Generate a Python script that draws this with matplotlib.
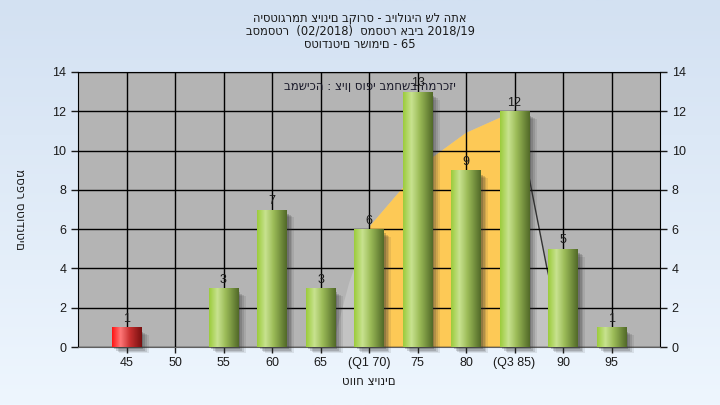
import numpy as np
import matplotlib.pyplot as plt
from matplotlib.colors import LinearSegmentedColormap
from matplotlib.patches import Rectangle, Polygon

plt.rcParams['font.family'] = ['Liberation Sans', 'DejaVu Sans']
HEB = ['DejaVu Sans']

# grade ranges and student counts
categories = ['45', '50', '55', '60', '65', '(Q1 70)', '75', '80', '(Q3 85)', '90', '95']
counts = [1, 0, 3, 7, 3, 6, 13, 9, 12, 5, 1]
q1_idx, q3_idx = 5, 8

# distribution curve (category index, height)
curve_x = [4.24, 4.59, 5.0, 5.66, 6.28, 7.0, 7.68, 8.0, 8.28, 8.67, 9.06]
curve_y = [0, 3.26, 6.1, 8.0, 9.6, 10.9, 11.65, 12.0, 8.9, 4.0, 0]

title = ('היסטוגרמת ציונים בקורס - ביולוגיה של התא\n'
         'בסמסטר  (02/2018)  סמסטר אביב 2018/19\n'
         'סטודנטים רשומים - 65')
note = 'במשיכה : ציון סופי במחשב המרכזי'
xlabel = 'טווח ציונים'
ylabel = 'מספר סטודנטים'

fig = plt.figure(figsize=(7.2, 4.05), dpi=100)

# background gradient
bg = fig.add_axes([0, 0, 1, 1], zorder=-10)
bg_cmap = LinearSegmentedColormap.from_list('bg', ['#d3e1f2', '#eef6fe'])
bg.imshow(np.linspace(0, 1, 256).reshape(-1, 1), cmap=bg_cmap, aspect='auto',
          extent=(0, 1, 0, 1))
bg.set_axis_off()

ax = fig.add_axes([78 / 720, 1 - 347 / 405, 582 / 720, 275 / 405])
ax.set_facecolor('#b4b4b4')

# curve areas
light = Polygon(list(zip(curve_x, curve_y)), closed=True, facecolor='#c3c3c3',
                edgecolor='none', zorder=0.2)
ax.add_patch(light)
yx = [x for x in curve_x if q1_idx <= x <= q3_idx]
yy = [y for x, y in zip(curve_x, curve_y) if q1_idx <= x <= q3_idx]
yellow = Polygon(list(zip(yx, yy)) + [(q3_idx, 0), (q1_idx, 0)], closed=True,
                 facecolor='#fdc956', edgecolor='none', zorder=0.3)
ax.add_patch(yellow)
ax.plot(curve_x[7:], curve_y[7:], color='#333333', lw=1, zorder=0.4)

green = LinearSegmentedColormap.from_list(
    'g', [(0, '#9ccc3c'), (0.28, '#c8e290'), (0.55, '#9cbc58'), (1, '#526a28')])
red = LinearSegmentedColormap.from_list(
    'r', [(0, '#ff1414'), (0.28, '#ff7878'), (0.6, '#c83030'), (1, '#781010')])
grad = np.linspace(0, 1, 64).reshape(1, -1)

w = 0.6
for i, v in enumerate(counts):
    if v == 0:
        continue
    # soft shadow
    for k, a in enumerate([0.10, 0.14, 0.18, 0.24]):
        off = 0.05 + 0.035 * (3 - k)
        ax.add_patch(Rectangle((i - w / 2 + off, -0.3 + 0.06 * k), w, v - 0.1,
                               facecolor='#303030', edgecolor='none', alpha=a,
                               zorder=3, clip_on=False))
    bar = ax.bar(i, v, width=w, color='none', edgecolor='none', zorder=4)[0]
    img = ax.imshow(grad, cmap=red if i == 0 else green, aspect='auto',
                    extent=(i - w / 2, i + w / 2, 0, v), zorder=4)
    img.set_clip_path(bar)
    ax.text(i, v + 0.12, str(v), ha='center', va='bottom', fontsize=9,
            color='#1a1a1a', zorder=6)

ax.set_xlim(-1, 11)
ax.set_ylim(0, 14)
ax.set_xticks(range(len(categories)))
ax.set_xticklabels(categories)
ax.set_yticks(range(0, 15, 2))
ax.tick_params(axis='both', labelsize=9, colors='#1a1a1a', length=5, width=1)
ax.tick_params(axis='y', right=True, labelright=True)
ax.tick_params(axis='x', length=4)

ax.set_axisbelow(True)
ax.grid(True, color='black', lw=1)
for s in ax.spines.values():
    s.set_color('black')
ax.spines['bottom'].set_color('#606060')

ax.text(0.502, 0.949, note, transform=ax.transAxes, ha='center', va='center',
        fontsize=8.5, color='#1a1a2a', zorder=7, family=HEB)

ax.set_xlabel(xlabel, fontsize=8.5, color='#1a1a1a', labelpad=4, family=HEB)
ax.set_ylabel(ylabel, fontsize=8.5, color='#1a1a1a', rotation=270,
              va='center', family=HEB)
ax.yaxis.set_label_coords(-0.1, 0.5)

fig.text(0.5, 1 - 31 / 405, title, ha='center', va='center', fontsize=8.3,
         color='#1a1a1a', linespacing=1.05, family=HEB)

fig.savefig('out.png', dpi=100)
